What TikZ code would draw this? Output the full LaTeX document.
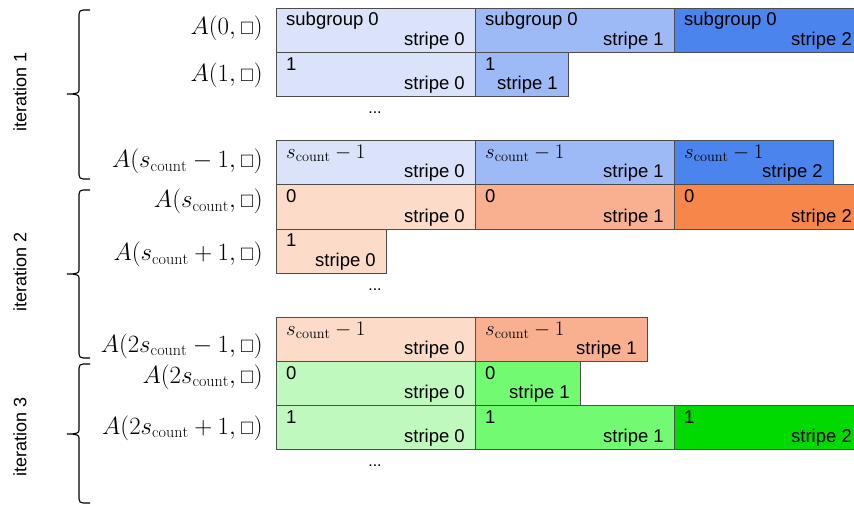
\documentclass[tikz,border=0pt]{standalone}
\usepackage{amssymb}
\usepackage{graphicx}
\usepackage{fontspec}
\setsansfont{Liberation Sans}

% stripe fill colours: blue (iteration 1), orange (iteration 2), green (iteration 3)
\definecolor{bluezero}{HTML}{DAE3F9}
\definecolor{blueone}{HTML}{9DBAF6}
\definecolor{bluetwo}{HTML}{4A84EC}
\definecolor{orangezero}{HTML}{FCDCC8}
\definecolor{orangeone}{HTML}{F9B090}
\definecolor{orangetwo}{HTML}{F7864B}
\definecolor{greenzero}{HTML}{C0F9BE}
\definecolor{greenone}{HTML}{72FA72}
\definecolor{greentwo}{HTML}{00DA00}
\definecolor{cellborder}{HTML}{4D4D4D}

\tikzset{
  cell/.style={draw=cellborder, line width=0.9pt, inner sep=0pt, outer sep=0pt,
               anchor=north west, minimum height=44.3pt},
  toplbl/.style={anchor=base west, inner sep=0pt, font=\fontsize{18.5}{20}\selectfont\sffamily},
  mathtop/.style={anchor=base west, inner sep=0pt, font=\fontsize{20.5}{22}\selectfont},
  botlbl/.style={anchor=base east, inner sep=0pt, font=\fontsize{18.5}{20}\selectfont\sffamily},
  rowlbl/.style={anchor=base east, inner sep=0pt, font=\fontsize{23}{25}\selectfont},
  iterlbl/.style={rotate=90, inner sep=0pt, font=\fontsize{18}{20}\selectfont\sffamily},
  dotslbl/.style={inner sep=0pt, font=\fontsize{16}{18}\selectfont\sffamily},
  bracepath/.style={line width=1.1pt, black},
}

% #1 name, #2 left x, #3 top y, #4 width, #5 fill, #6 top text style, #7 top text, #8 stripe text
\newcommand\mkcell[8]{%
  \node[cell, fill=#5, minimum width=#4pt] (#1) at (#2,#3) {};
  \node[#6] (#1t) at ([xshift=10pt,yshift=-18pt]#1.north west) {#7};
  \node[botlbl] (#1b) at ([xshift=-10pt,yshift=6.8pt]#1.south east) {#8};
}
\newcommand\scnt{s_{\mathrm{count}}}
% placeholder square used as the second index
\newcommand\slot{\mathord{\scalebox{0.78}{$\square$}}}

% curly brace opening to the right: #1 top y, #2 bottom y, #3 tip y
\newcommand\mkbrace[3]{%
  \draw[bracepath] (90,#1) -- (83,#1) .. controls (80.5,#1) and (79,{#1+1.5}) .. (79,{#1+4})
    -- (79,{#3-4}) .. controls (79,{#3-1}) and (77,#3) .. (67,#3)
    .. controls (77,#3) and (79,{#3+1}) .. (79,{#3+4})
    -- (79,{#2-4}) .. controls (79,{#2-1.5}) and (80.5,#2) .. (83,#2) -- (90,#2);
}

\begin{document}
\begin{tikzpicture}[x=1pt, y=-1pt]
\useasboundingbox (0,0) rectangle (854,505);

% ---- iteration 1 ----
\mkcell{c11}{276}{8}{199}{bluezero}{toplbl}{subgroup 0}{stripe 0}
\mkcell{c12}{475}{8}{199}{blueone}{toplbl}{subgroup 0}{stripe 1}
\mkcell{c13}{674}{8}{188}{bluetwo}{toplbl}{subgroup 0}{stripe 2}
\mkcell{c21}{276}{52.3}{199}{bluezero}{toplbl}{1}{stripe 0}
\mkcell{c22}{475}{52.3}{93}{blueone}{toplbl}{1}{stripe 1}
\mkcell{c31}{276}{140.5}{199}{bluezero}{mathtop}{$\scnt-1$}{stripe 0}
\mkcell{c32}{475}{140.5}{199}{blueone}{mathtop}{$\scnt-1$}{stripe 1}
\mkcell{c33}{674}{140.5}{159}{bluetwo}{mathtop}{$\scnt-1$}{stripe 2}

% ---- iteration 2 ----
\mkcell{c41}{276}{184.8}{199}{orangezero}{toplbl}{0}{stripe 0}
\mkcell{c42}{475}{184.8}{199}{orangeone}{toplbl}{0}{stripe 1}
\mkcell{c43}{674}{184.8}{188}{orangetwo}{toplbl}{0}{stripe 2}
\mkcell{c51}{276}{229}{110}{orangezero}{toplbl}{1}{stripe 0}
\mkcell{c61}{276}{317}{199}{orangezero}{mathtop}{$\scnt-1$}{stripe 0}
\mkcell{c62}{475}{317}{172}{orangeone}{mathtop}{$\scnt-1$}{stripe 1}

% ---- iteration 3 ----
\mkcell{c71}{276}{361}{199}{greenzero}{toplbl}{0}{stripe 0}
\mkcell{c72}{475}{361}{105}{greenone}{toplbl}{0}{stripe 1}
\mkcell{c81}{276}{405}{199}{greenzero}{toplbl}{1}{stripe 0}
\mkcell{c82}{475}{405}{199}{greenone}{toplbl}{1}{stripe 1}
\mkcell{c83}{674}{405}{188}{greentwo}{toplbl}{1}{stripe 2}

% ellipses between rows
\node[dotslbl] (d1) at (375,113) {...};
\node[dotslbl] (d2) at (375,290) {...};
\node[dotslbl] (d3) at (375,466) {...};

% row labels
\node[rowlbl] (l1) at (263,35)  {$A(0,\slot)$};
\node[rowlbl] (l2) at (263,82)  {$A(1,\slot)$};
\node[rowlbl] (l3) at (263,168) {$A(\scnt-1,\slot)$};
\node[rowlbl] (l4) at (263,208) {$A(\scnt,\slot)$};
\node[rowlbl] (l5) at (263,261) {$A(\scnt+1,\slot)$};
\node[rowlbl] (l6) at (263,352) {$A(2\scnt-1,\slot)$};
\node[rowlbl] (l7) at (263,383) {$A(2\scnt,\slot)$};
\node[rowlbl] (l8) at (263,434) {$A(2\scnt+1,\slot)$};

% braces grouping the iterations
\mkbrace{10}{179}{94}
\mkbrace{190}{358}{274}
\mkbrace{364}{503}{434}

% iteration labels
\node[iterlbl] (it1) at (20,92)  {iteration 1};
\node[iterlbl] (it2) at (20,272) {iteration 2};
\node[iterlbl] (it3) at (20,437) {iteration 3};
\end{tikzpicture}
\end{document}
